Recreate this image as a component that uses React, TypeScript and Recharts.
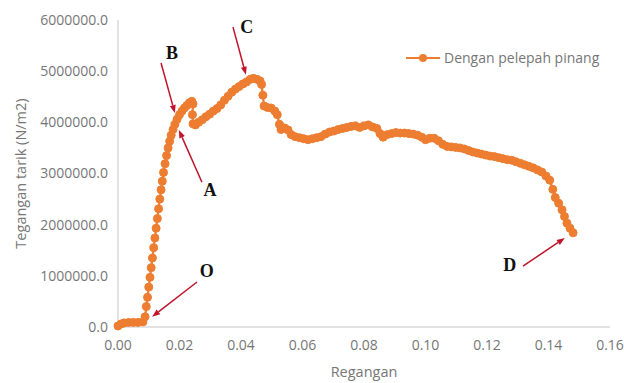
import React from "react";
import {
  LineChart,
  Line,
  XAxis,
  YAxis,
  Legend,
  ReferenceLine,
  ReferenceDot,
} from "recharts";

const ORANGE = "#ED7D31";
const ARROW_RED = "#C0142A";
const TEXT_GRAY = "#767676";
const FONT = "'Open Sans', sans-serif";

// strain (Regangan) and stress (Tegangan tarik, N/m2)
const strain = [
  0.0, 0.001, 0.002, 0.0035, 0.005, 0.0065, 0.0081, 0.0088, 0.0092, 0.0096,
  0.01, 0.0104, 0.0108, 0.0112, 0.0116, 0.012, 0.0124, 0.0128, 0.0132, 0.0136,
  0.014, 0.0144, 0.0148, 0.0153, 0.0158, 0.0163, 0.0168, 0.0173, 0.0179, 0.0185,
  0.0192, 0.02, 0.0208, 0.0216, 0.0224, 0.0232, 0.024, 0.0244, 0.0242, 0.0244,
  0.0252, 0.0262, 0.0274, 0.0286, 0.0298, 0.031, 0.0322, 0.0334, 0.0346, 0.0358,
  0.037, 0.0382, 0.0394, 0.0406, 0.0418, 0.043, 0.044, 0.0452, 0.0462, 0.0467,
  0.0471, 0.0475, 0.0486, 0.0498, 0.051, 0.0518, 0.0525, 0.053, 0.0542, 0.0553,
  0.0563, 0.0576, 0.059, 0.0604, 0.0618, 0.0632, 0.0646, 0.066, 0.0674, 0.0688,
  0.0702, 0.0716, 0.073, 0.0744, 0.0758, 0.0772, 0.0786, 0.08, 0.0814, 0.0828,
  0.0842, 0.0852, 0.0862, 0.0876, 0.089, 0.0904, 0.0918, 0.0932, 0.0946, 0.096,
  0.0974, 0.0988, 0.1, 0.1014, 0.1028, 0.1042, 0.1056, 0.107, 0.1084, 0.1098,
  0.1112, 0.1126, 0.114, 0.1154, 0.1168, 0.1182, 0.1196, 0.121, 0.1224, 0.1238,
  0.1252, 0.1266, 0.128, 0.1294, 0.1308, 0.1322, 0.1336, 0.135, 0.1364, 0.1378,
  0.1392, 0.1404, 0.1414, 0.1422, 0.1433, 0.1444, 0.1452, 0.146, 0.147, 0.148,
];

const stress = [
  20000, 60000, 80000, 90000, 90000, 90000, 100000, 200000, 400000, 580000,
  780000, 970000, 1160000, 1350000, 1550000, 1740000, 1930000, 2120000, 2310000, 2500000,
  2680000, 2850000, 3020000, 3190000, 3350000, 3500000, 3630000, 3750000, 3860000, 3960000,
  4060000, 4150000, 4220000, 4280000, 4330000, 4380000, 4410000, 4360000, 4150000, 3970000,
  3950000, 4000000, 4050000, 4110000, 4160000, 4220000, 4270000, 4340000, 4430000, 4510000,
  4590000, 4650000, 4700000, 4750000, 4790000, 4840000, 4860000, 4840000, 4810000, 4740000,
  4530000, 4320000, 4290000, 4280000, 4220000, 4150000, 3960000, 3860000, 3890000, 3850000,
  3760000, 3720000, 3700000, 3680000, 3660000, 3680000, 3700000, 3720000, 3770000, 3810000,
  3830000, 3860000, 3880000, 3900000, 3920000, 3930000, 3900000, 3930000, 3950000, 3910000,
  3880000, 3780000, 3710000, 3760000, 3780000, 3800000, 3790000, 3790000, 3780000, 3770000,
  3750000, 3710000, 3660000, 3690000, 3690000, 3640000, 3570000, 3530000, 3520000, 3510000,
  3500000, 3480000, 3450000, 3420000, 3400000, 3380000, 3360000, 3340000, 3330000, 3310000,
  3290000, 3270000, 3260000, 3230000, 3200000, 3170000, 3140000, 3110000, 3070000, 3030000,
  2950000, 2870000, 2690000, 2530000, 2420000, 2290000, 2160000, 2030000, 1930000, 1840000,
];

const xTicks = [0, 0.02, 0.04, 0.06, 0.08, 0.1, 0.12, 0.14, 0.16];
const yTicks = [0, 1000000, 2000000, 3000000, 4000000, 5000000, 6000000];

// annotation letters and their arrows (tail -> head), in data units
const markLetters = ["O", "A", "B", "C", "D"];
const letterX = [0.0289, 0.0299, 0.0176, 0.0419, 0.1274];
const letterY = [1110000, 2680000, 5370000, 5860000, 1210000];
const arrowFromX = [0.0257, 0.0273, 0.014, 0.0374, 0.1317];
const arrowFromY = [880000, 2830000, 5160000, 5860000, 1190000];
const arrowToX = [0.0111, 0.0198, 0.0185, 0.0416, 0.1453];
const arrowToY = [200000, 3850000, 4180000, 4930000, 1740000];

const rows = strain.map((x, i) => ({ x, y: stress[i] }));

function ArrowShape(props: any) {
  const { x1, y1, x2, y2 } = props;
  const ang = Math.atan2(y2 - y1, x2 - x1);
  const len = 8;
  const half = 3;
  const bx = x2 - len * Math.cos(ang);
  const by = y2 - len * Math.sin(ang);
  const px = -Math.sin(ang) * half;
  const py = Math.cos(ang) * half;
  return (
    <g>
      <line x1={x1} y1={y1} x2={bx} y2={by} stroke={ARROW_RED} strokeWidth={1.5} />
      <polygon
        points={`${x2},${y2} ${bx + px},${by + py} ${bx - px},${by - py}`}
        fill={ARROW_RED}
      />
    </g>
  );
}

function renderLegend() {
  return (
    <div
      style={{
        display: "flex",
        alignItems: "center",
        fontFamily: FONT,
        fontSize: 14,
        color: TEXT_GRAY,
        whiteSpace: "nowrap",
      }}
    >
      <svg width={34} height={10}>
        <line x1={0} y1={5} x2={34} y2={5} stroke={ORANGE} strokeWidth={2} />
        <circle cx={17} cy={5} r={4} fill={ORANGE} />
      </svg>
      <span style={{ marginLeft: 4 }}>Dengan pelepah pinang</span>
    </div>
  );
}

export default function App() {
  return (
    <div style={{ position: "absolute", left: 0, top: 0, background: "#fff" }}>
      <LineChart
        width={624}
        height={383}
        data={rows}
        margin={{ top: 20, right: 14, bottom: 0, left: 0 }}
      >
        <XAxis
          type="number"
          dataKey="x"
          domain={[0, 0.16]}
          ticks={xTicks}
          tickFormatter={(v: number) => v.toFixed(2)}
          tick={{ fontSize: 14, fill: TEXT_GRAY, fontFamily: FONT }}
          tickLine={false}
          tickSize={0}
          tickMargin={13}
          axisLine={{ stroke: "#d9d9d9", strokeWidth: 1.5 }}
          height={56}
          label={{
            content: (p: any) => {
              const vb = p.viewBox;
              return (
                <text
                  x={vb.x + vb.width / 2}
                  y={vb.y + 50}
                  textAnchor="middle"
                  fontFamily={FONT}
                  fontSize={14.5}
                  fill={TEXT_GRAY}
                >
                  Regangan
                </text>
              );
            },
          }}
        />
        <YAxis
          type="number"
          domain={[0, 6000000]}
          ticks={yTicks}
          tickFormatter={(v: number) => v.toFixed(1)}
          tick={{ fontSize: 14, fill: TEXT_GRAY, fontFamily: FONT }}
          tickLine={false}
          tickSize={0}
          tickMargin={10}
          axisLine={{ stroke: "#d9d9d9", strokeWidth: 1.5 }}
          width={118}
          label={{
            content: (p: any) => {
              const vb = p.viewBox;
              const cx = 20;
              const cy = vb.y + vb.height / 2;
              return (
                <text
                  x={cx}
                  y={cy}
                  transform={`rotate(-90 ${cx} ${cy})`}
                  textAnchor="middle"
                  dominantBaseline="central"
                  fontFamily={FONT}
                  fontSize={14.5}
                  fill={TEXT_GRAY}
                >
                  Tegangan tarik (N/m2)
                </text>
              );
            },
          }}
        />
        <Legend
          layout="horizontal"
          verticalAlign="middle"
          align="center"
          content={renderLegend}
          wrapperStyle={{ left: 406, top: 48, width: 220 }}
        />
        <Line
          type="linear"
          dataKey="y"
          stroke={ORANGE}
          strokeWidth={2.25}
          dot={{ r: 4, fill: ORANGE, stroke: ORANGE, strokeWidth: 1 }}
          activeDot={false}
          isAnimationActive={false}
        />
        {markLetters.map((m, i) => (
          <ReferenceLine
            key={`arrow-${m}`}
            segment={[
              { x: arrowFromX[i], y: arrowFromY[i] },
              { x: arrowToX[i], y: arrowToY[i] },
            ]}
            shape={ArrowShape}
          />
        ))}
        {markLetters.map((m, i) => (
          <ReferenceDot
            key={`letter-${m}`}
            x={letterX[i]}
            y={letterY[i]}
            r={0}
            shape={(p: any) => (
              <text
                x={p.cx}
                y={p.cy}
                dy="0.35em"
                textAnchor="middle"
                fontFamily="'Liberation Serif', serif"
                fontWeight="bold"
                fontSize={18}
                fill="#111"
              >
                {m}
              </text>
            )}
          />
        ))}
      </LineChart>
    </div>
  );
}
